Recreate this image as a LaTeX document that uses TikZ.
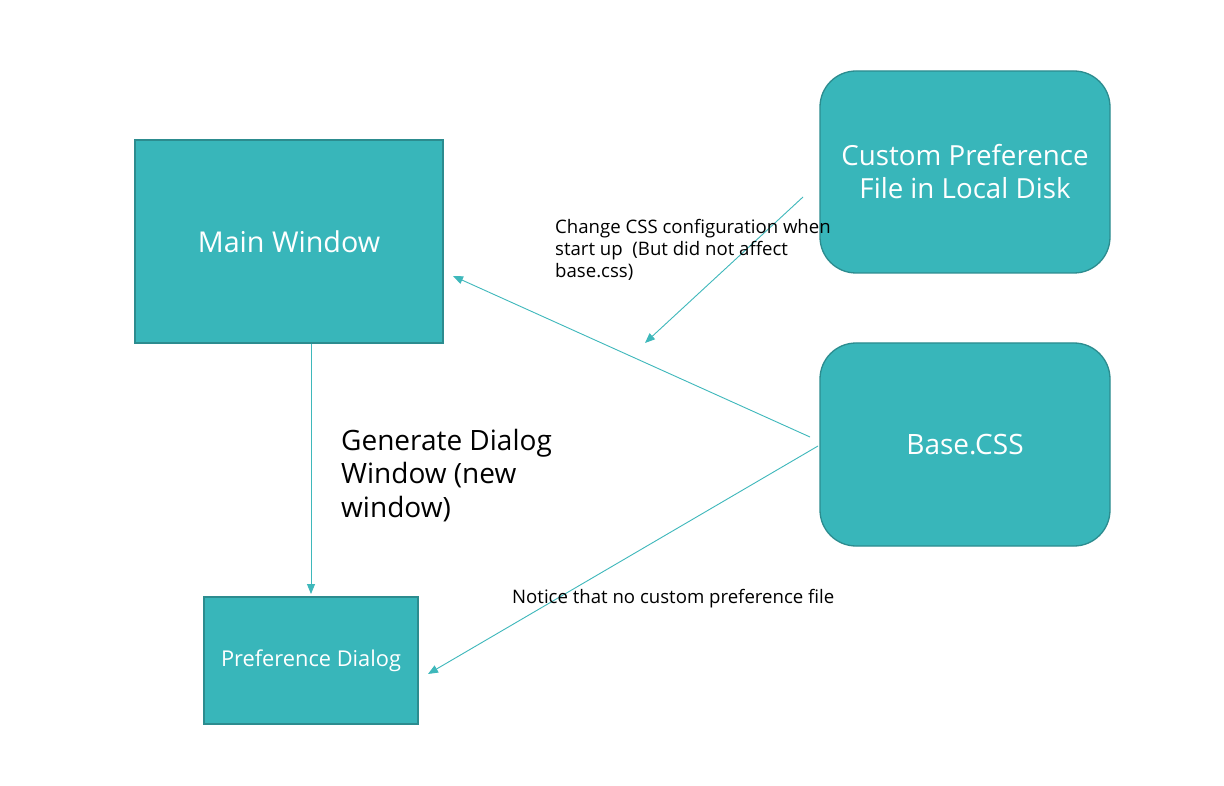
\documentclass[tikz,border=0pt]{standalone}
\usepackage{fontspec}
\setmainfont{Open Sans}
\usetikzlibrary{arrows.meta}
\definecolor{teal1}{RGB}{56,182,186}
\definecolor{tealedge}{RGB}{44,140,143}
\definecolor{tealline}{RGB}{62,184,187}
\tikzset{
  box/.style={draw=tealedge, line width=1.3pt, fill=teal1, text=white, inner sep=0pt, align=center},
  rbox/.style={box, rounded corners=36pt},
  conn/.style={draw=tealline, line width=0.9pt, -{Triangle[length=10pt,width=8pt]}},
  lbl/.style={anchor=north west, inner sep=0pt, align=left, text=black}
}
\begin{document}
\begin{tikzpicture}[x=1pt,y=-1pt]
\useasboundingbox (0,0) rectangle (1224,786);
\fill[white] (0,0) rectangle (1224,786);

\node[box, minimum width=308pt, minimum height=203pt, font=\fontsize{28.7}{32}\selectfont] (main) at (289,241.5) {Main Window};
\node[rbox, minimum width=290pt, minimum height=202pt, font=\fontsize{27.7}{33}\selectfont] (custom) at (965,172) {Custom Preference\\File in Local Disk};
\node[rbox, minimum width=290pt, minimum height=203pt, font=\fontsize{28}{32}\selectfont] (base) at (965,444.5) {Base.CSS};
\node[box, minimum width=214pt, minimum height=127pt, font=\fontsize{21.8}{24}\selectfont] (pref) at (311,660.5) {Preference Dialog};

\coordinate (c1s) at (803,197);
\coordinate (c1e) at (645,343);
\coordinate (c2s) at (810,437);
\coordinate (c2e) at (453,276);
\coordinate (c3s) at (818,446);
\coordinate (c3e) at (428,674);
\coordinate (c4e) at (311,594);

\draw[conn] (main.south -| c4e) -- (c4e);
\draw[conn] (c2s) -- (c2e);
\draw[conn] (c1s) -- (c1e);
\draw[conn] (c3s) -- (c3e);

\node[lbl, font=\fontsize{18.6}{22}\selectfont] (t1) at (555,219) {Change CSS configuration when\\start up\ \ (But did not affect\\base.css)};
\node[lbl, font=\fontsize{28}{33.5}\selectfont] (t2) at (341,429) {Generate Dialog\\Window (new\\window)};
\node[lbl, font=\fontsize{18.6}{22}\selectfont] (t3) at (512,589) {Notice that no custom preference file};
\end{tikzpicture}
\end{document}
